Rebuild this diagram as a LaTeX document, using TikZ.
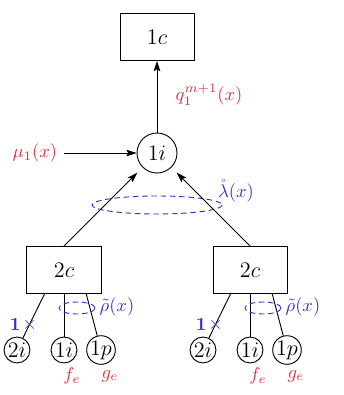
\documentclass[tikz,border=0pt]{standalone}
\usepackage{amsmath,amssymb}
\usetikzlibrary{arrows.meta}

\definecolor{lblred}{RGB}{218,50,62}
\definecolor{lblblue}{RGB}{50,50,200}

\tikzset{
	cbox/.style={draw,font=\large,minimum width=40pt,minimum height=25.4pt,inner sep=0pt},
	bignode/.style={draw,circle,font=\large,minimum size=21.6pt,inner sep=0pt},
	leafnode/.style={draw,circle,font=\large,minimum size=14pt,inner sep=0pt},
	lbl/.style={inner sep=0.5pt},
	arr/.style={-{Stealth[length=5.5pt,width=3.6pt,inset=1pt]}},
	ring/.style={lblblue,densely dashed},
}

\begin{document}
\begin{tikzpicture}[x=0.54pt,y=-0.54pt,line width=0.5pt]
	
	% --- frame (fixes margins) ---
	\useasboundingbox (0,0) rectangle (343,395);
	
	% top part
	\node[cbox]    (box1c) at (157,37)  {$1c$};
	\node[bignode] (int1)  at (157,153) {$1i$};
	\coordinate    (muin)  at (64,153);
	
	\draw[arr] (int1) -- (box1c);
	\node[lbl,lblred] (qlab) at (209,95) {$q_1^{m+1}(x)$};
	\draw[arr] (muin) -- (int1);
	\node[lbl,lblred,left] (mulab) at ([xshift=-3pt]muin) {$\mu_1(x)$};
	
	% dashed ring around the two inputs of 1i
	\draw[ring] (157,205) ellipse [x radius=65, y radius=9];
	\node[lbl,lblblue] (lamlab) at (236,191) {$\mathring{\lambda}(x)$};
	
	% two subtrees: 2c with leaves 2i, 1i, 1p
	\foreach \s/\x in {L/64, R/250}{
		\node[cbox] (box2c\s) at (\x,270) {$2c$};
		\draw[arr,shorten >=4pt] (box2c\s.north) -- (int1);
		
		\node[leafnode] (leaf2i\s) at (\x-47,350) {$2i$};
		\node[leafnode] (leaf1i\s) at (\x,350)    {$1i$};
		\node[leafnode] (leaf1p\s) at (\x+37,350) {$1p$};
		
		\coordinate (tl\s) at (\x-19,293);
		\coordinate (tr\s) at (\x+22,293);
		\draw (tl\s) -- (leaf2i\s)
			node[pos=0.7,lblblue,inner sep=0pt] (cut\s) {$\times$};
		\node[lbl,lblblue,left] (cutlab\s) at (cut\s.west) {$\mathbf{1}$};
		\draw (box2c\s) -- (leaf1i\s);
		\draw (tr\s) -- (leaf1p\s);
		
		% ring and labels
		\draw[ring] (\x+13,308) ellipse [x radius=18, y radius=6];
		\node[lbl,lblblue] (rholab\s) at (\x+53,307) {$\tilde{\rho}(x)$};
		\node[lbl,lblred] (flab\s) at (\x+8,376)  {$f_e$};
		\node[lbl,lblred] (glab\s) at (\x+46,376) {$g_e$};
	}
	
\end{tikzpicture}
\end{document}
